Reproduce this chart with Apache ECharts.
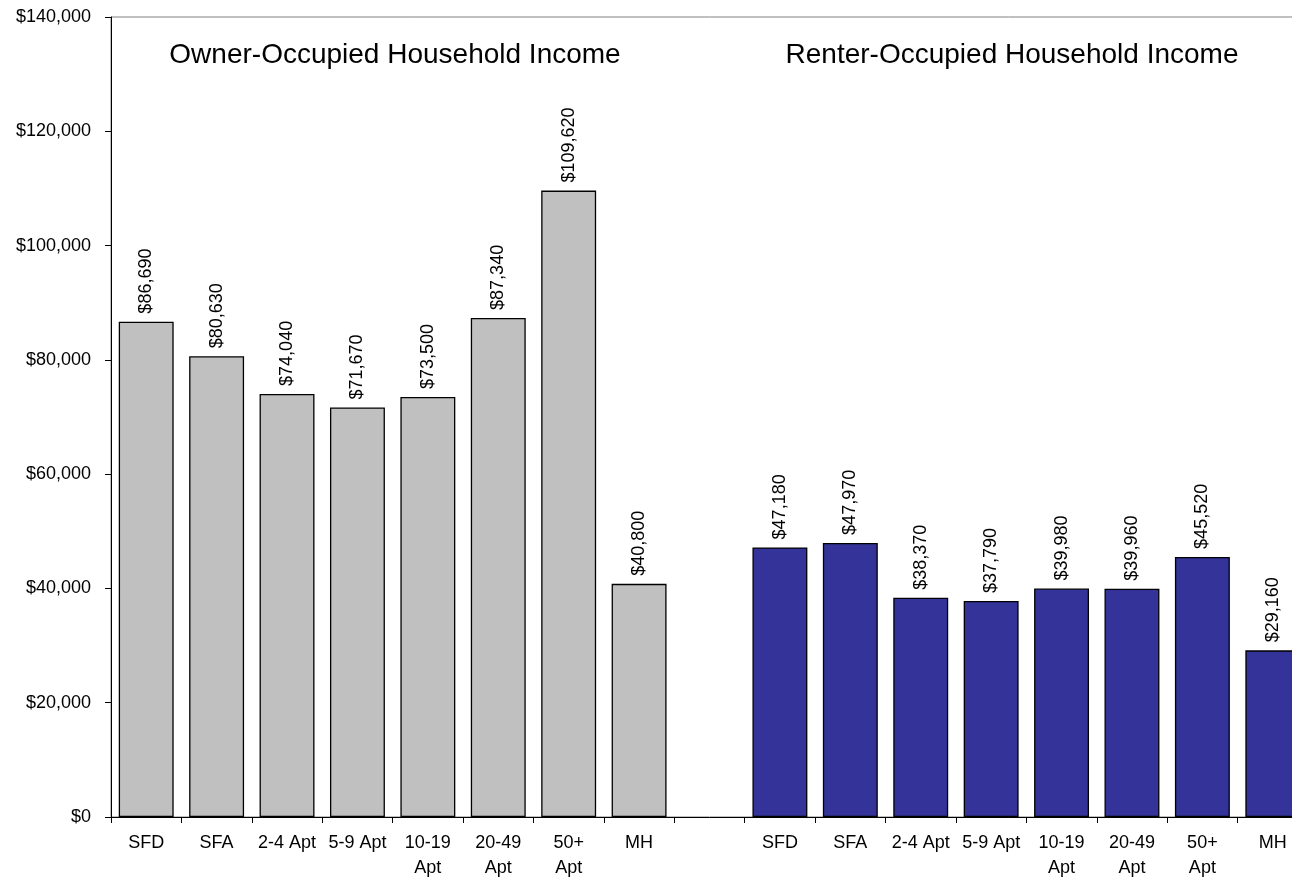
<!DOCTYPE html>
<html>
<head>
<meta charset="utf-8">
<script src="https://cdn.jsdelivr.net/npm/echarts@6/dist/echarts.min.js"></script>
<style>
html,body{margin:0;padding:0;background:#fff;overflow:hidden;width:1292px;height:881px;}
#chart{width:1308px;height:881px;}
</style>
</head>
<body>
<div id="chart"></div>
<script>
var categories = ['SFD','SFA','2-4 Apt','5-9 Apt','10-19\nApt','20-49\nApt','50+\nApt','MH','',
                  'SFD','SFA','2-4 Apt','5-9 Apt','10-19\nApt','20-49\nApt','50+\nApt','MH'];
var ownerIncome = [86690, 80630, 74040, 71670, 73500, 87340, 109620, 40800];
var renterIncome = [47180, 47970, 38370, 37790, 39980, 39960, 45520, 29160];
var yTicks = { min: 0, max: 140000, interval: 20000 };
var titles = ['Owner-Occupied Household Income', 'Renter-Occupied Household Income'];

var FONT = "'Liberation Sans', Arial, sans-serif";
var nOwner = ownerIncome.length;
var ownerData = categories.map(function(c, i){ return i < nOwner ? ownerIncome[i] : '-'; });
var renterStart = nOwner + 1;
var renterData = categories.map(function(c, i){ return i >= renterStart ? renterIncome[i - renterStart] : '-'; });

function money(v){ return '$' + Number(v).toLocaleString('en-US'); }

var labelOpt = {
  show: true, position: 'top', rotate: 90, align: 'left', verticalAlign: 'middle',
  distance: 8, fontSize: 18, fontFamily: FONT, color: '#000',
  formatter: function(p){ return money(p.value); }
};

var chart = echarts.init(document.getElementById('chart'), null, {renderer: 'canvas'});
chart.setOption({
  animation: false,
  backgroundColor: '#fff',
  grid: { left: 111, right: 0, top: 17, bottom: 64, show: true, borderColor: '#808080', borderWidth: 1, backgroundColor: '#fff' },
  xAxis: {
    type: 'category', data: categories,
    axisLine: { lineStyle: { color: '#000', width: 1 } },
    axisTick: { show: true, interval: 0, length: 6, lineStyle: { color: '#000' } },
    axisLabel: { interval: 0, fontSize: 18, fontFamily: FONT, color: '#000', margin: 14, lineHeight: 25 }
  },
  yAxis: {
    type: 'value', min: yTicks.min, max: yTicks.max, interval: yTicks.interval,
    axisLine: { show: true, lineStyle: { color: '#000', width: 1 } },
    axisTick: { show: true, length: 6, lineStyle: { color: '#000' } },
    splitLine: { show: false },
    axisLabel: { fontSize: 18, fontFamily: FONT, color: '#000', margin: 20, formatter: money }
  },
  series: [
    { name: 'Owner', type: 'bar', data: ownerData, barGap: '-100%', barCategoryGap: '22%',
      itemStyle: { color: '#C0C0C0', borderColor: '#000', borderWidth: 1.3 }, label: labelOpt },
    { name: 'Renter', type: 'bar', data: renterData, barGap: '-100%', barCategoryGap: '22%',
      itemStyle: { color: '#333399', borderColor: '#000', borderWidth: 1.3 }, label: labelOpt }
  ],
  graphic: [
    { type: 'text', x: 395, y: 55, style: { text: titles[0], fontSize: 28, fontFamily: FONT, fill: '#000', textAlign: 'center', textVerticalAlign: 'middle' } },
    { type: 'text', x: 1012, y: 55, style: { text: titles[1], fontSize: 28, fontFamily: FONT, fill: '#000', textAlign: 'center', textVerticalAlign: 'middle' } }
  ]
});
</script>
</body>
</html>
